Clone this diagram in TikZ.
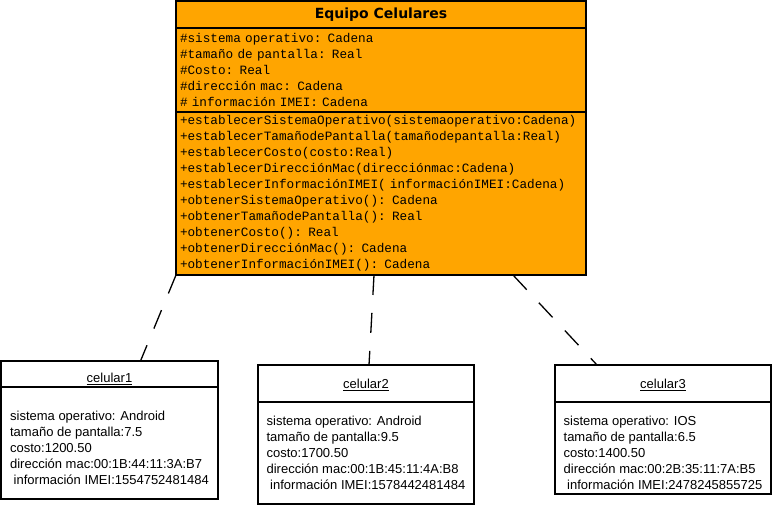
\documentclass[tikz,border=0pt]{standalone}
\usepackage{fontspec}
\setmainfont{Liberation Sans}
\newfontfamily\monofont{Liberation Mono}
\newfontfamily\titlefont{DejaVu Sans}
\usepackage{xcolor}
\usetikzlibrary{positioning}
\definecolor{clsorange}{RGB}{255,165,0}
\newcommand{\topgap}{\rule{0pt}{20pt}}

\begin{document}
\begin{tikzpicture}[x=1pt,y=-1pt,
node distance=0pt,
part/.style={draw,line width=1.6pt,outer sep=0pt,inner sep=0pt,minimum width=410pt,fill=clsorange},
ttl/.style={part,minimum height=27pt,font=\titlefont\bfseries\fontsize{14}{16}\selectfont},
sect/.style={part,align=left,inner xsep=4pt,text width=402pt,font=\monofont\fontsize{12.7}{16}\selectfont},
obj/.style={draw,line width=1.6pt,outer sep=0pt,inner sep=0pt,minimum width=216pt,fill=white,font=\fontsize{13}{16}\selectfont},
objhead/.style={obj,text height=12pt,text depth=2pt},
objbody/.style={obj,align=left},
link/.style={line width=1.3pt,dash pattern=on 20pt off 18pt}]
\useasboundingbox[fill=white] (0,0) rectangle (773,505);
\node[ttl,anchor=north west] (ttl) at (176,1) {Equipo Celulares};
\node[sect,below=of ttl,minimum height=84pt] (attr) {\#sistema operativo: Cadena\\
\#tamaño de pantalla: Real\\
\#Costo: Real\\
\#dirección mac: Cadena\\
\# información IMEI: Cadena};
\node[sect,below=of attr,minimum height=163pt] (meth) {+establecerSistemaOperativo(sistemaoperativo:Cadena)\\
+establecerTamañodePantalla(tamañodepantalla:Real)\\
+establecerCosto(costo:Real)\\
+establecerDirecciónMac(direcciónmac:Cadena)\\
+establecerInformaciónIMEI( informaciónIMEI:Cadena)\\
+obtenerSistemaOperativo(): Cadena\\
+obtenerTamañodePantalla(): Real\\
+obtenerCosto(): Real\\
+obtenerDirecciónMac(): Cadena\\
+obtenerInformaciónIMEI(): Cadena};
\node[objhead,anchor=north west,minimum width=217pt,minimum height=26pt,text height=20pt,text depth=3pt] (c1h) at (1,361) {\underline{celular1}};
\node[objbody,below=of c1h,minimum width=217pt,minimum height=112pt] (c1b) {\topgap sistema operativo: Android\\
tamaño de pantalla:7.5\\
costo:1200.50\\
dirección mac:00:1B:44:11:3A:B7\\
\ información IMEI:1554752481484};
\node[objhead,anchor=north west,minimum height=37pt] (c2h) at (258,365) {\underline{celular2}};
\node[objbody,below=of c2h,minimum height=102pt] (c2b) {sistema operativo: Android\\
tamaño de pantalla:9.5\\
costo:1700.50\\
dirección mac:00:1B:45:11:4A:B8\\
\ información IMEI:1578442481484};
\node[objhead,anchor=north west,minimum height=37pt] (c3h) at (555,365) {\underline{celular3}};
\node[objbody,below=of c3h,minimum height=92pt] (c3b) {\topgap sistema operativo: IOS\\
tamaño de pantalla:6.5\\
costo:1400.50\\
dirección mac:00:2B:35:11:7A:B5\\
\ información IMEI:2478245855725};
\draw[link] (meth.south west) -- ([xshift=31pt]c1h.north);
\draw[link] ([xshift=-7pt]meth.south) -- ([xshift=3pt]c2h.north);
\draw[link] ([xshift=-73pt]meth.south east) -- ([xshift=-66pt]c3h.north);
\end{tikzpicture}
\end{document}
